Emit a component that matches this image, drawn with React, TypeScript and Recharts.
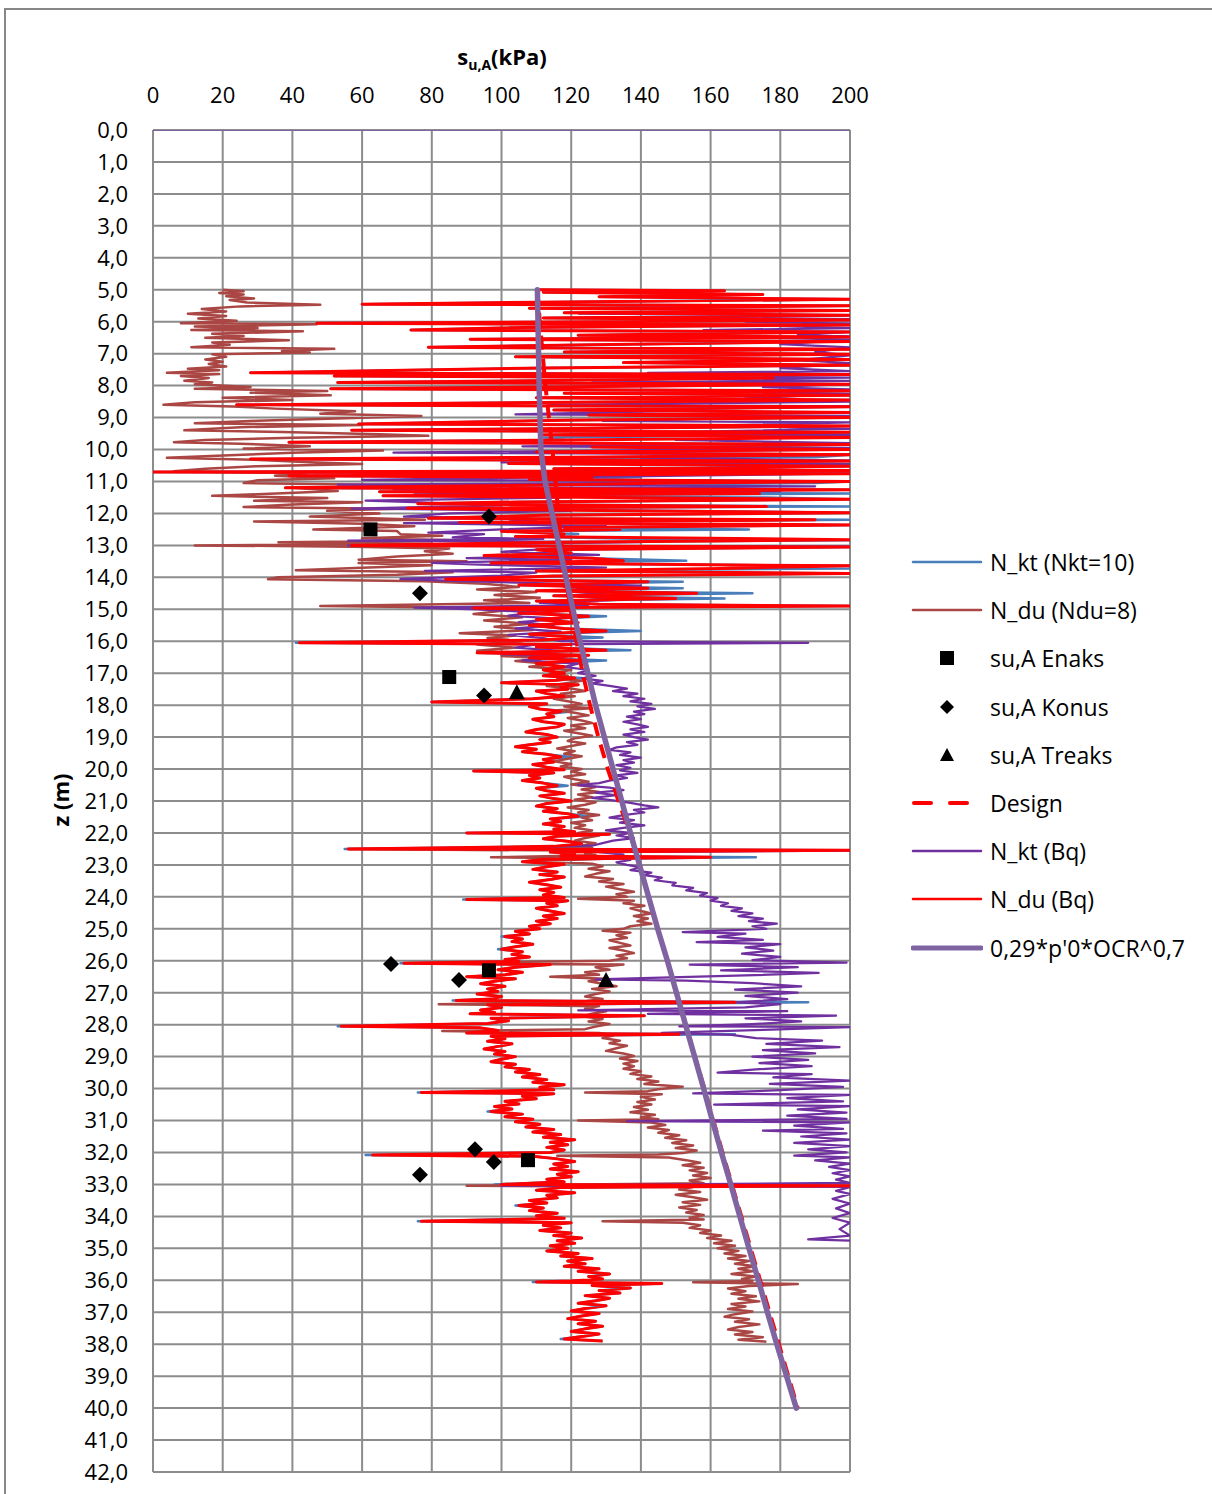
import React from "react"
import { ScatterChart, Scatter, XAxis, YAxis, CartesianGrid } from "recharts"

// all series as [z (m), su,A (kPa)]
const xTicks = [0, 20, 40, 60, 80, 100, 120, 140, 160, 180, 200]
const zTicks = [
  0, 1, 2, 3, 4, 5, 6, 7, 8, 9, 10, 11, 12, 13, 14, 15, 16, 17, 18, 19, 20, 21,
  22, 23, 24, 25, 26, 27, 28, 29, 30, 31, 32, 33, 34, 35, 36, 37, 38, 39, 40, 41, 42,
]

const topLine = [[0, 0], [0, 200]]

const duBq = [
  [5.0,110],[5.03,164],[5.08,112],[5.15,175],[5.22,128],[5.3,200],[5.38,118],[5.45,60],[5.5,200],[5.58,108],[5.65,200],[5.72,118],[5.8,200],[5.88,112],[5.95,200],[6.05,47],[6.1,200],[6.18,106],[6.26,74],[6.32,200],[6.42,122],[6.48,200],[6.55,91],[6.62,200],[6.72,126],[6.8,79],[6.86,200],[6.95,118],[7.02,200],[7.1,104],[7.18,200],[7.28,135],[7.36,200],[7.45,112],[7.6,28],[7.65,200],[7.7,52],[7.76,178],[7.85,108],[7.9,53],[7.96,200],[8.04,112],[8.1,51],[8.16,200],[8.24,118],[8.3,200],[8.38,110],[8.45,200],[8.52,120],[8.6,24],[8.66,200],[8.76,115],[8.84,200],[8.92,125],[9.0,200],[9.08,118],[9.2,59],[9.26,200],[9.34,122],[9.4,57],[9.46,200],[9.54,112],[9.62,200],[9.7,118],[9.77,39],[9.84,200],[9.92,126],[10.0,200],[10.08,110],[10.16,200],[10.24,120],[10.3,28],[10.36,200],[10.44,102],[10.52,200],[10.6,115],[10.66,200],[10.7,0],[10.76,200],[10.82,39],[10.87,126],[10.94,108],[11.0,200],[11.05,148],[11.12,110],[11.2,38],[11.26,200],
  [11.32,65],[11.38,174],[11.45,66],[11.5,131],[11.56,200],[11.64,105],[11.7,76],[11.78,176],[11.84,73],[11.9,120],[11.98,200],[12.06,112],[12.15,79],[12.2,190],[12.28,88],[12.36,200],[12.44,118],[12.5,134],[12.56,100],[12.64,118],[12.72,104],[12.82,200],[12.9,118],[13.0,57],[13.05,200],[13.14,110],[13.24,120],[13.32,95],[13.4,126],[13.48,135],[13.55,97],[13.64,200],[13.72,163],[13.8,110],[13.88,200],[13.96,115],[14.06,84],[14.14,142],[14.24,105],[14.34,142],[14.42,110],[14.5,156],[14.58,115],[14.66,150],[14.74,110],[14.84,128],[14.9,200],[14.96,92],[15.04,120],[15.12,105],[15.22,125],[15.32,110],[15.42,122],[15.5,108],[15.6,118],[15.68,130],[15.78,108],[15.88,122],[15.96,112],[16.05,42],[16.1,120],[16.18,110],[16.28,130],[16.36,93],[16.44,125],[16.52,108],[16.6,122],[16.7,110],[16.8,118],[16.9,112],
  [17.0,118],[17.08,112],[17.15,121],[17.22,116],[17.3,100],[17.36,122],[17.42,117],[17.5,119],[17.56,110],[17.64,113],[17.72,118],[17.8,109],[17.9,80],[17.96,113],[18.04,108],[18.12,111],[18.2,117],[18.28,113],[18.36,115],[18.44,109],[18.52,112],[18.6,118],[18.68,116],[18.76,110],[18.84,107],[18.92,113],[19.0,116],[19.08,111],[19.16,114],[19.24,108],[19.3,104],[19.38,110],[19.46,106],[19.54,113],[19.62,117],[19.7,112],[19.78,115],[19.86,109],[19.94,113],[20.02,118],[20.06,92],[20.12,115],[20.2,108],[20.28,111],[20.36,106],[20.44,112],[20.52,116],[20.6,110],[20.68,113],[20.76,118],[20.84,111],[20.92,115],[21.0,120],[21.08,113],[21.16,110],[21.24,116],[21.32,112],[21.4,119],[21.48,122],[21.56,114],[21.64,117],[21.72,112],[21.8,118],[21.88,115],[21.96,121],[22.0,90],[22.04,131],[22.1,116],[22.18,112],[22.26,119],[22.34,123],[22.42,115],[22.5,56],[22.54,200],[22.6,114],[22.66,121],[22.72,117],[22.76,160],[22.82,112],[22.9,106],[22.98,118],[23.06,113],[23.14,109],[23.22,116],[23.3,111],[23.38,118],[23.46,114],[23.54,108],[23.62,113],[23.7,117],[23.78,111],[23.86,115],[23.94,112],[24.02,118],[24.08,90],[24.12,119],[24.2,113],[24.28,116],[24.36,110],
  [24.44,114],[24.52,118],[24.6,112],[24.68,116],[24.76,110],[24.84,114],[24.92,108],[25.0,111],[25.08,104],[25.16,108],[25.24,101],[25.32,106],[25.4,103],[25.48,109],[25.56,104],[25.64,100],[25.72,106],[25.8,103],[25.88,108],[25.96,101],[26.02,105],[26.08,72],[26.12,114],[26.2,104],[26.28,99],[26.36,106],[26.44,101],[26.5,90],[26.56,104],[26.64,98],[26.72,94],[26.8,101],[26.88,96],[26.96,99],[27.04,93],[27.12,100],[27.2,97],[27.24,87],[27.3,167],[27.38,96],[27.46,100],[27.54,94],[27.62,98],[27.66,91],[27.72,141],[27.8,97],[27.88,102],[27.96,96],[28.05,54],[28.1,94],[28.18,99],[28.26,90],[28.3,151],[28.36,97],[28.44,101],[28.52,96],[28.6,103],[28.68,99],[28.76,95],[28.84,101],[28.92,98],[29.0,104],[29.08,100],[29.16,97],[29.24,104],[29.32,101],[29.4,108],[29.48,104],[29.56,111],[29.64,106],[29.72,113],[29.8,109],[29.88,118],[29.96,111],[30.04,115],[30.12,77],[30.16,115],[30.24,106],[30.32,110],[30.4,101],[30.48,105],[30.56,98],[30.64,103],[30.72,97],[30.8,106],[30.88,101],[30.96,109],[31.04,104],[31.12,111],[31.2,107],[31.28,115],[31.36,109],[31.44,117],[31.52,112],[31.6,121],[31.68,114],[31.76,119],[31.84,113],[31.92,118],[32.0,114],[32.08,63],[32.12,109],[32.2,116],[32.28,121],[32.36,115],[32.44,119],[32.52,114],[32.6,122],[32.68,116],[32.76,120],[32.84,113],[32.92,118],[33.0,100],[33.04,200],[33.1,117],[33.18,110],[33.26,121],[33.34,113],[33.42,116],[33.5,108],[33.58,113],[33.66,105],[33.74,112],[33.82,108],[33.9,116],[33.98,110],[34.06,118],[34.15,77],[34.2,120],[34.28,112],[34.36,117],[34.44,111],[34.52,120],[34.6,115],[34.68,123],[34.76,116],[34.84,121],[34.92,114],[35.0,119],[35.08,113],[35.16,122],[35.24,117],[35.32,126],[35.4,119],[35.48,124],[35.56,118],[35.64,128],[35.72,122],[35.8,131],[35.88,125],[35.96,129],[36.02,120],[36.05,110],[36.1,146],[36.16,126],[36.24,137],[36.32,128],[36.4,134],[36.48,124],[36.56,131],[36.64,127],[36.72,122],[36.8,130],[36.88,124],[36.96,120],[37.04,128],[37.12,123],[37.2,119],[37.28,127],[37.36,122],[37.44,129],[37.52,124],[37.6,120],[37.68,128],[37.76,123],[37.84,118],[37.9,129],
]

const ktNkt10 = [
  [5.0,110],[5.03,164],[5.08,112],[5.15,175],[5.22,128],[5.3,200],[5.38,118],[5.45,60],[5.5,200],[5.58,108],[5.65,200],[5.72,118],[5.8,200],[5.88,112],[5.95,200],[6.05,47],[6.1,200],[6.18,106],[6.26,74],[6.32,200],[6.42,122],[6.48,200],[6.55,91],[6.62,200],[6.72,126],[6.8,79],[6.86,200],[6.95,118],[7.02,200],[7.1,104],[7.18,200],[7.28,135],[7.36,200],[7.45,112],[7.6,28],[7.65,200],[7.7,52],[7.76,178],[7.85,108],[7.9,53],[7.96,200],[8.04,112],[8.1,51],[8.16,200],[8.24,118],[8.3,200],[8.38,110],[8.45,200],[8.52,120],[8.6,24],[8.66,200],[8.76,115],[8.84,200],[8.92,125],[9.0,200],[9.08,118],[9.2,59],[9.26,200],[9.34,122],[9.4,57],[9.46,200],[9.5,150],[9.54,200],[9.62,112],[9.7,118],[9.77,39],[9.84,200],[9.92,160],[10.0,200],[10.08,110],[10.16,200],[10.24,190],[10.3,28],[10.36,200],[10.44,102],[10.52,200],[10.6,115],[10.66,200],[10.7,0],[10.76,200],[10.82,39],[10.87,140],[10.94,108],[11.0,200],[11.05,190],[11.12,110],[11.2,38],[11.26,200],
  [11.32,65],[11.38,200],[11.45,66],[11.5,176],[11.56,200],[11.64,105],[11.7,76],[11.78,200],[11.84,73],[11.9,132],[11.98,200],[12.06,112],[12.15,79],[12.2,200],[12.28,88],[12.36,200],[12.44,118],[12.5,171],[12.56,100],[12.64,122],[12.72,104],[12.8,142],[12.84,200],[12.9,118],[13.0,57],[13.05,200],[13.14,110],[13.24,120],[13.32,95],[13.4,126],[13.48,153],[13.55,97],[13.64,200],[13.72,200],[13.8,110],[13.88,200],[13.96,115],[14.06,84],[14.14,152],[14.24,105],[14.34,152],[14.42,110],[14.5,172],[14.58,115],[14.66,164],[14.74,110],[14.84,128],[14.9,200],[14.96,92],[15.04,120],[15.12,105],[15.22,130],[15.32,110],[15.42,122],[15.5,108],[15.6,118],[15.68,140],[15.78,108],[15.88,129],[15.96,112],[16.05,41],[16.1,120],[16.18,110],[16.28,137],[16.36,93],[16.44,125],[16.52,108],[16.6,130],[16.7,110],[16.8,118],[16.9,112],
  [17.0,118],[17.08,112],[17.15,123],[17.22,116],[17.3,100],[17.36,122],[17.42,117],[17.5,119],[17.56,110],[17.64,113],[17.72,118],[17.8,109],[17.9,80],[17.96,113],[18.04,108],[18.12,111],[18.2,120],[18.28,113],[18.36,115],[18.44,109],[18.52,112],[18.6,118],[18.68,116],[18.76,110],[18.84,107],[18.92,113],[19.0,116],[19.08,111],[19.16,114],[19.24,108],[19.3,104],[19.38,110],[19.46,106],[19.54,113],[19.62,120],[19.7,112],[19.78,115],[19.86,109],[19.94,113],[20.02,118],[20.06,92],[20.12,115],[20.2,108],[20.28,111],[20.36,106],[20.44,112],[20.52,119],[20.6,110],[20.68,113],[20.76,118],[20.84,111],[20.92,115],[21.0,120],[21.08,113],[21.16,110],[21.24,116],[21.32,112],[21.4,119],[21.48,125],[21.56,114],[21.64,117],[21.72,112],[21.8,118],[21.88,115],[21.96,121],[22.0,90],[22.04,131],[22.1,116],[22.18,112],[22.26,119],[22.34,123],[22.42,115],[22.5,55],[22.54,200],[22.6,114],[22.66,121],[22.72,117],[22.76,173],[22.82,112],[22.9,106],[22.98,118],[23.06,113],[23.14,109],[23.22,116],[23.3,111],[23.38,118],[23.46,114],[23.54,108],[23.62,113],[23.7,117],[23.78,111],[23.86,115],[23.94,112],[24.02,118],[24.08,89],[24.12,119],[24.2,113],[24.28,116],[24.36,110],
  [24.44,114],[24.52,118],[24.6,112],[24.68,116],[24.76,110],[24.84,114],[24.92,108],[25.0,111],[25.08,104],[25.16,108],[25.24,100],[25.32,106],[25.4,103],[25.48,109],[25.56,104],[25.64,99],[25.72,106],[25.8,103],[25.88,108],[25.96,101],[26.02,105],[26.08,71],[26.12,114],[26.2,104],[26.28,99],[26.36,106],[26.44,101],[26.5,90],[26.56,104],[26.64,98],[26.72,94],[26.8,101],[26.88,96],[26.96,99],[27.04,93],[27.12,100],[27.2,97],[27.24,86],[27.3,188],[27.38,96],[27.46,100],[27.54,94],[27.62,98],[27.66,91],[27.72,141],[27.8,97],[27.88,102],[27.96,96],[28.05,53],[28.1,94],[28.18,99],[28.26,90],[28.3,167],[28.36,97],[28.44,101],[28.52,96],[28.6,103],[28.68,99],[28.76,95],[28.84,101],[28.92,98],[29.0,104],[29.08,100],[29.16,97],[29.24,104],[29.32,101],[29.4,108],[29.48,104],[29.56,111],[29.64,106],[29.72,113],[29.8,109],[29.88,118],[29.96,111],[30.04,115],[30.12,76],[30.16,115],[30.24,106],[30.32,110],[30.4,101],[30.48,105],[30.56,98],[30.64,103],[30.72,96],[30.8,106],[30.88,101],[30.96,109],[31.04,104],[31.12,111],[31.2,107],[31.28,115],[31.36,109],[31.44,117],[31.52,112],[31.6,121],[31.68,114],[31.76,119],[31.84,113],[31.92,118],[32.0,114],[32.08,61],[32.12,109],[32.2,116],[32.28,121],[32.36,115],[32.44,119],[32.52,114],[32.6,122],[32.68,116],[32.76,120],[32.84,113],[32.92,118],[33.0,98],[33.04,200],[33.1,117],[33.18,110],[33.26,121],[33.34,113],[33.42,116],[33.5,108],[33.58,113],[33.66,104],[33.74,112],[33.82,108],[33.9,116],[33.98,110],[34.06,118],[34.15,76],[34.2,120],[34.28,112],[34.36,117],[34.44,111],[34.52,120],[34.6,115],[34.68,123],[34.76,116],[34.84,121],[34.92,114],[35.0,119],[35.08,113],[35.16,122],[35.24,117],[35.32,126],[35.4,119],[35.48,124],[35.56,118],[35.64,128],[35.72,122],[35.8,131],[35.88,125],[35.96,129],[36.02,120],[36.05,109],[36.1,146],[36.16,126],[36.24,137],[36.32,128],[36.4,134],[36.48,124],[36.56,131],[36.64,127],[36.72,122],[36.8,130],[36.88,124],[36.96,120],[37.04,128],[37.12,123],[37.2,119],[37.28,127],[37.36,122],[37.44,129],[37.52,124],[37.6,120],[37.68,128],[37.76,123],[37.84,117],[37.9,129],
]

const duNdu8 = [
  [5.0,20],[5.05,26],[5.1,19],[5.15,26],[5.2,21],[5.27,29],[5.32,22],[5.4,27],[5.47,48],[5.52,25],[5.6,14],[5.68,21],[5.75,10],[5.82,21],[5.9,13],[5.97,24],[6.05,8],[6.08,47],[6.15,12],[6.2,30],[6.26,11],[6.3,43],[6.38,17],[6.45,26],[6.5,15],[6.58,39],[6.65,17],[6.72,22],[6.8,11],[6.85,52],[6.92,37],[6.96,45],[7.02,17],[7.1,21],[7.18,15],[7.25,20],[7.32,16],[7.4,21],[7.47,10],[7.52,19],[7.6,4],[7.64,19],[7.7,8],[7.76,16],[7.85,9],[7.9,17],[7.96,12],[8.04,28],[8.1,12],[8.17,50],[8.22,28],[8.3,51],[8.38,20],[8.45,40],[8.52,12],[8.6,3],[8.65,23],[8.72,35],[8.8,58],[8.88,48],[8.95,77],[9.02,55],[9.1,30],[9.18,12],[9.23,60],[9.3,25],[9.4,9],[9.45,37],[9.52,65],[9.57,79],[9.63,40],[9.7,15],[9.77,6],[9.82,25],[9.9,45],[9.97,26],[10.03,66],[10.1,40],[10.18,22],[10.26,4],[10.32,29],[10.4,45],[10.45,60],[10.52,30],[10.6,15],[10.68,6],[10.74,44],[10.82,35],[10.9,52],[10.96,30],[11.05,26],[11.12,72],[11.2,40],[11.3,53],[11.4,30],[11.45,17],[11.52,50],
  [11.6,29],[11.65,60],[11.72,40],[11.8,26],[11.85,70],[11.92,50],[12.0,65],[12.1,45],[12.2,78],[12.25,29],[12.32,60],[12.4,75],[12.5,46],[12.55,70],[12.65,71],[12.7,83],[12.78,60],[12.85,90],[12.9,36],[12.95,80],[13.0,12],[13.04,57],[13.1,85],[13.18,78],[13.26,86],[13.35,70],[13.45,59],[13.5,90],[13.55,59],[13.62,80],[13.7,60],[13.78,41],[13.84,86],[13.92,70],[14.0,36],[14.06,33],[14.12,78],[14.2,95],[14.3,105],[14.38,93],[14.46,110],[14.55,98],[14.64,111],[14.72,95],[14.8,108],[14.9,48],[14.95,94],[15.05,100],[15.15,92],[15.25,106],[15.35,95],[15.45,108],[15.55,98],[15.65,109],[15.75,88],[15.82,104],[15.9,96],[16.0,106],[16.1,93],[16.2,104],[16.3,93],[16.38,108],[16.46,100],[16.54,113],[16.62,104],[16.72,115],[16.8,108],[16.9,120],
  [17.0,114],[17.08,119],[17.16,116],[17.24,123],[17.32,118],[17.4,113],[17.48,120],[17.56,124],[17.64,117],[17.72,121],[17.8,115],[17.88,119],[17.96,123],[18.04,118],[18.1,126],[18.16,116],[18.24,121],[18.32,125],[18.4,119],[18.48,123],[18.56,126],[18.64,120],[18.72,124],[18.8,118],[18.88,122],[18.96,126],[19.04,121],[19.12,119],[19.2,124],[19.28,120],[19.36,116],[19.44,121],[19.52,118],[19.6,123],[19.68,119],[19.76,115],[19.84,120],[19.92,117],[20.0,123],[20.08,120],[20.16,124],[20.24,118],[20.32,121],[20.4,125],[20.48,120],[20.56,127],[20.64,123],[20.72,128],[20.8,122],[20.88,126],[20.96,121],[21.04,127],[21.12,124],[21.2,119],[21.28,125],[21.36,122],[21.44,128],[21.52,123],[21.6,126],[21.68,120],[21.76,124],[21.84,121],[21.92,126],[22.0,122],[22.08,128],[22.16,124],[22.24,121],[22.32,127],[22.4,123],[22.46,126],[22.5,56],[22.56,130],[22.64,124],[22.7,127],[22.76,97],[22.8,132],[22.88,110],[22.96,126],[23.04,129],[23.12,125],[23.2,131],[23.28,127],[23.36,124],[23.44,132],[23.52,128],[23.6,135],[23.68,130],[23.76,134],[23.84,138],[23.92,133],[24.0,136],[24.06,122],[24.12,138],[24.2,135],[24.28,141],[24.36,137],[24.44,140],[24.52,143],[24.6,138],[24.68,142],[24.76,139],[24.84,143],[24.92,137],
  [25.0,135],[25.06,129],[25.12,137],[25.2,133],[25.28,136],[25.36,131],[25.44,134],[25.52,137],[25.6,131],[25.68,135],[25.76,138],[25.84,133],[25.92,136],[26.0,131],[26.08,72],[26.12,135],[26.2,127],[26.28,131],[26.36,124],[26.44,128],[26.5,114],[26.56,130],[26.64,125],[26.72,129],[26.8,133],[26.88,126],[26.96,131],[27.04,127],[27.12,124],[27.2,129],[27.28,123],[27.36,82],[27.42,128],[27.5,124],[27.58,130],[27.66,126],[27.74,123],[27.82,129],[27.9,125],[27.98,131],[28.06,127],[28.14,124],[28.2,83],[28.26,128],[28.34,132],[28.42,129],[28.5,134],[28.58,131],[28.66,136],[28.74,133],[28.82,130],[28.9,135],[28.98,138],[29.06,134],[29.14,139],[29.22,135],[29.3,138],[29.38,135],[29.46,140],[29.54,137],[29.62,143],[29.7,139],[29.78,145],[29.86,141],[29.94,152],[30.02,145],[30.08,142],[30.12,124],[30.18,146],[30.26,140],[30.34,144],[30.42,139],[30.5,143],[30.58,138],[30.66,142],[30.74,137],[30.82,144],[30.9,140],[30.96,145],[31.0,122],[31.06,143],[31.14,147],[31.22,142],[31.3,148],[31.38,145],[31.46,151],[31.54,147],[31.62,153],[31.7,149],[31.78,155],[31.86,150],[31.94,156],[32.02,152],[32.06,145],[32.1,116],[32.16,148],[32.24,153],[32.32,157],[32.4,152],[32.48,158],[32.56,154],[32.64,159],[32.72,155],[32.8,160],[32.88,154],[32.96,158],[33.04,90],[33.08,155],[33.16,151],[33.24,157],[33.32,150],[33.4,155],[33.48,159],[33.56,152],[33.64,157],[33.72,151],[33.8,156],[33.88,153],[33.96,158],[34.04,154],[34.1,158],[34.15,129],[34.2,152],[34.28,157],[34.36,154],[34.44,160],[34.52,157],[34.6,163],[34.68,159],[34.76,166],[34.84,161],[34.92,167],[35.0,162],[35.08,168],[35.16,164],[35.24,170],[35.32,165],[35.4,171],[35.48,167],[35.56,173],[35.64,168],[35.72,172],[35.8,166],[35.88,173],[35.96,169],[36.02,172],[36.06,155],[36.12,185],[36.18,171],[36.26,165],[36.34,170],[36.42,166],[36.5,173],[36.58,168],[36.66,174],[36.74,166],[36.82,170],[36.9,165],[36.98,172],[37.06,167],[37.14,164],[37.22,171],[37.3,167],[37.38,174],[37.46,168],[37.54,165],[37.62,172],[37.7,167],[37.78,175],[37.86,168],[37.92,176],
]

const ktBq = [
  [5.75,122],[5.8,200],[5.86,150],[5.92,200],[6.0,170],[6.06,200],[6.14,180],[6.2,200],[6.26,158],[6.32,200],[6.42,185],[6.46,200],[6.5,176],[6.56,200],[6.7,180],[6.8,200],[6.95,190],[7.05,200],[7.2,185],[7.3,200],[7.45,180],[7.55,200],[7.6,142],[7.65,200],[7.7,145],[7.75,200],[7.8,150],[7.85,200],[7.9,126],[7.95,200],[8.05,175],[8.12,200],[8.2,165],[8.25,200],[8.4,170],[8.5,200],[8.6,114],[8.65,200],[8.75,135],[8.78,155],[8.84,130],[8.9,104],[8.95,200],[9.1,129],[9.15,200],[9.25,160],[9.35,200],[9.5,128],[9.55,200],[9.7,150],[9.8,200],[9.9,106],[9.95,200],[10.1,69],[10.15,200],[10.25,140],[10.35,200],[10.4,100],[10.45,200],[10.6,150],[10.66,200],[10.7,140],[10.75,200],[10.85,130],[10.95,60],[11.0,200],[11.1,53],[11.15,190],[11.25,69],[11.3,180],
  [11.4,75],[11.5,120],[11.6,61],[11.65,75],[11.75,100],[11.85,57],[11.92,120],[12.0,85],[12.1,72],[12.15,99],[12.25,110],[12.3,72],[12.4,130],[12.5,100],[12.6,79],[12.65,95],[12.75,86],[12.8,112],[12.85,56],[12.9,140],[13.0,56],[13.04,200],[13.1,115],[13.2,100],[13.3,128],[13.4,90],[13.45,120],[13.55,80],[13.6,94],[13.7,130],[13.8,78],[13.85,110],[13.95,100],[14.05,71],[14.1,84],[14.2,115],[14.26,140],[14.3,118],[14.4,132],[14.45,120],[14.55,132],[14.6,122],[14.7,135],[14.8,111],[14.86,125],[14.95,75],[15.0,93],[15.1,110],[15.2,102],[15.3,117],[15.4,105],[15.5,115],[15.6,104],[15.7,117],[15.8,102],[15.9,112],[16.0,117],[16.05,188],[16.1,110],[16.2,104],[16.3,117],[16.4,100],[16.5,118],[16.6,106],[16.7,122],[16.8,118],[16.9,125],
  [17.0,122],[17.08,127],[17.16,123],[17.24,129],[17.32,126],[17.4,131],[17.48,136],[17.56,132],[17.64,139],[17.72,135],[17.8,141],[17.88,137],[17.96,143],[18.04,139],[18.12,144],[18.2,138],[18.28,141],[18.36,136],[18.44,140],[18.52,135],[18.6,139],[18.68,142],[18.76,137],[18.84,141],[18.92,135],[19.0,138],[19.08,142],[19.16,136],[19.24,139],[19.32,133],[19.4,131],[19.48,137],[19.56,134],[19.64,140],[19.72,135],[19.8,138],[19.88,133],[19.96,137],[20.04,134],[20.12,139],[20.2,133],[20.28,136],[20.36,131],[20.44,128],[20.5,122],[20.58,131],[20.66,135],[20.74,127],[20.82,133],[20.9,126],[20.98,132],[21.06,137],[21.14,141],[21.2,145],[21.28,138],[21.36,141],[21.44,135],[21.52,131],[21.6,138],[21.68,134],[21.76,141],[21.84,135],[21.92,130],[22.0,137],[22.08,133],[22.16,138],[22.24,132],[22.32,129],[22.4,126],[22.5,81],[22.55,200],[22.6,128],[22.68,135],[22.76,131],[22.84,137],[22.92,133],[23.0,136],[23.08,140],[23.16,137],[23.24,143],[23.32,141],[23.4,146],[23.48,144],[23.56,150],[23.64,149],[23.72,155],[23.8,153],[23.88,159],[23.96,157],[24.04,162],[24.12,160],[24.2,165],[24.28,163],[24.36,169],[24.44,166],[24.52,172],[24.6,168],[24.68,175],[24.76,171],[24.84,179],[24.92,172],[25.0,176],
  [25.1,152],[25.15,170],[25.25,162],[25.35,175],[25.42,156],[25.48,180],[25.58,170],[25.68,178],[25.78,169],[25.88,180],[25.98,172],[26.06,199],[26.12,154],[26.2,185],[26.3,163],[26.38,191],[26.46,170],[26.58,127],[26.62,153],[26.7,172],[26.8,186],[26.9,167],[27.0,185],[27.1,170],[27.2,182],[27.3,167],[27.36,180],[27.46,170],[27.55,122],[27.58,182],[27.66,142],[27.72,196],[27.8,170],[27.9,186],[27.98,172],[28.05,151],[28.08,200],[28.16,175],[28.26,146],[28.32,166],[28.42,173],[28.5,192],[28.6,176],[28.7,197],[28.8,175],[28.9,190],[29.0,172],[29.1,188],[29.2,174],[29.3,189],[29.4,173],[29.5,162],[29.55,189],[29.65,178],[29.75,200],[29.85,177],[29.95,198],[30.05,180],[30.15,155],[30.2,200],[30.3,182],[30.4,198],[30.5,161],[30.55,200],[30.65,185],[30.75,199],[30.85,182],[30.95,199],[31.02,136],[31.06,200],[31.16,184],[31.26,198],[31.32,175],[31.4,199],[31.5,186],[31.6,200],[31.7,184],[31.8,200],[31.9,188],[32.0,199],[32.1,184],[32.15,200],[32.25,190],[32.35,200],[32.45,194],[32.55,200],[32.65,195],[32.75,200],[32.85,196],[32.95,200],[33.04,100],[33.08,200],[33.2,196],[33.3,200],[33.45,195],[33.6,200],[33.75,196],[33.9,200],[34.05,195],[34.2,200],[34.4,197],[34.6,200],[34.72,188],[34.76,200],
]

const p0Line = [
  [5,110.3],[8,110.8],[10,111.3],[11,112.5],[12,114.5],[13,116.5],[14,118.5],[15,120.5],[16,122.5],[17,124.8],[18,127],[19,129.5],[20,132],[21,134.5],[22,137],[23,139.6],[24,142.2],[25,144.8],[26,147.6],[27,150.2],[28,152.8],[29,155.4],[30,158],[31,160.5],[32,163.1],[33,165.8],[34,168.4],[35,171],[36,173.7],[37,176.3],[38,179],[39,181.8],[40,184.6],
]

const design = [
  [5,110.3],[6,111],[7,111.8],[8,112.6],[9,113.6],[10,114.6],[11,115.5],[12,116.3],[13,117.3],[14,118.4],[15,119.8],[16,121.5],[17,123.3],[18,125.4],[19,127.8],[20,130.5],[21,133.6],[22,136.8],[23,139.6],[24,142.2],[26,147.6],[28,152.8],[30,158.2],[32,163.4],[34,168.8],[36,174.2],[38,179.6],[40,185],
]

const enaks = [[12.5,62.4],[17.12,85],[26.3,96.4],[32.24,107.6]]
const konus = [[12.1,96.4],[14.5,76.6],[17.7,95],[26.1,68.3],[26.6,87.8],[31.9,92.4],[32.3,97.8],[32.7,76.6]]
const treaks = [[17.6,104.4],[26.6,130]]

const FONT = '"Open Sans", "Noto Sans", sans-serif'
const GRID = "#8C8C8C"

const pts = (a: number[][]) => a.map(([z, x]) => ({ z, x }))
const noDot = () => null
const fmtZ = (v: number) => v.toFixed(1).replace(".", ",")

const Square = (p: any) => <rect x={p.cx - 7} y={p.cy - 7} width={14} height={14} fill="#000" />
const Diamond = (p: any) => (
  <polygon points={`${p.cx},${p.cy - 8} ${p.cx + 8},${p.cy} ${p.cx},${p.cy + 8} ${p.cx - 8},${p.cy}`} fill="#000" />
)
const Triangle = (p: any) => (
  <polygon points={`${p.cx},${p.cy - 8} ${p.cx + 8},${p.cy + 7} ${p.cx - 8},${p.cy + 7}`} fill="#000" />
)

const legendItems = [
  { label: "N_kt (Nkt=10)", kind: "line", color: "#4A7EBB", w: 2.5 },
  { label: "N_du (Ndu=8)", kind: "line", color: "#AA4643", w: 2.5 },
  { label: "su,A Enaks", kind: "square" },
  { label: "su,A Konus", kind: "diamond" },
  { label: "su,A Treaks", kind: "triangle" },
  { label: "Design", kind: "dash", color: "#FF0000", w: 4 },
  { label: "N_kt (Bq)", kind: "line", color: "#7030A0", w: 2.5 },
  { label: "N_du (Bq)", kind: "line", color: "#FF0000", w: 2.5 },
  { label: "0,29*p'0*OCR^0,7", kind: "line", color: "#8064A2", w: 5 },
]

function LegendMark({ item }: { item: any }) {
  return (
    <svg width={72} height={20}>
      {item.kind === "line" && <line x1={2} y1={10} x2={70} y2={10} stroke={item.color} strokeWidth={item.w} strokeLinecap="round" />}
      {item.kind === "dash" && (
        <line x1={3} y1={10} x2={58} y2={10} stroke={item.color} strokeWidth={item.w} strokeDasharray="17 19" strokeLinecap="round" />
      )}
      {item.kind === "square" && <rect x={29} y={3} width={14} height={14} fill="#000" />}
      {item.kind === "diamond" && <polygon points="36,3 43,10 36,17 29,10" fill="#000" />}
      {item.kind === "triangle" && <polygon points="36,3 43,16 29,16" fill="#000" />}
    </svg>
  )
}

export default function App() {
  return (
    <div style={{ position: "absolute", left: 0, top: 0, width: 1212, height: 1494, fontFamily: FONT, background: "#fff" }}>
      <div style={{ position: "absolute", left: 4, top: 8, width: 1208, height: 1486, borderLeft: "2px solid #878787", borderTop: "2px solid #878787" }} />

      <ScatterChart width={1212} height={1494} margin={{ top: 90, left: 93, right: 362, bottom: 22 }} style={{ position: "absolute", left: 0, top: 0 }}>
        <CartesianGrid stroke={GRID} strokeWidth={2} />
        <XAxis
          type="number"
          dataKey="x"
          orientation="top"
          domain={[0, 200]}
          ticks={xTicks}
          interval={0}
          height={40}
          allowDataOverflow
          axisLine={false}
          tickLine={false}
          tickSize={0}
          tickMargin={27}
          tick={{ fontSize: 22, fill: "#000", fontFamily: FONT }}
        />
        <YAxis
          type="number"
          dataKey="z"
          reversed
          domain={[0, 42]}
          ticks={zTicks}
          interval={0}
          width={60}
          allowDataOverflow
          axisLine={{ stroke: GRID, strokeWidth: 2 }}
          tickLine={false}
          tickSize={0}
          tickMargin={25}
          tickFormatter={fmtZ}
          tick={{ fontSize: 22, fill: "#000", fontFamily: FONT }}
        />
        <Scatter data={pts(topLine)} line={{ stroke: "#8064A2", strokeWidth: 2 }} shape={noDot} isAnimationActive={false} />
        <Scatter data={pts(ktNkt10)} line={{ stroke: "#4A7EBB", strokeWidth: 2.5, strokeLinejoin: "round" }} shape={noDot} isAnimationActive={false} />
        <Scatter data={pts(duNdu8)} line={{ stroke: "#AA4643", strokeWidth: 2.5, strokeLinejoin: "round" }} shape={noDot} isAnimationActive={false} />
        <Scatter data={pts(ktBq)} line={{ stroke: "#7030A0", strokeWidth: 2.25, strokeLinejoin: "round" }} shape={noDot} isAnimationActive={false} />
        <Scatter data={pts(design)} line={{ stroke: "#FF0000", strokeWidth: 4, strokeDasharray: "14 9" }} shape={noDot} isAnimationActive={false} />
        <Scatter data={pts(duBq)} line={{ stroke: "#FF0000", strokeWidth: 3, strokeLinejoin: "round" }} shape={noDot} isAnimationActive={false} />
        <Scatter data={pts(p0Line)} line={{ stroke: "#8064A2", strokeWidth: 5.5, strokeLinecap: "round" }} shape={noDot} isAnimationActive={false} />
        <Scatter data={pts(enaks)} shape={Square} isAnimationActive={false} />
        <Scatter data={pts(konus)} shape={Diamond} isAnimationActive={false} />
        <Scatter data={pts(treaks)} shape={Triangle} isAnimationActive={false} />
      </ScatterChart>

      <div style={{ position: "absolute", left: 402, top: 42, width: 200, textAlign: "center", fontWeight: 700, fontSize: 22, lineHeight: "28px" }}>
        s<sub style={{ fontSize: 14, verticalAlign: "-5px" }}>u,A</sub>(kPa)
      </div>
      <div style={{ position: "absolute", left: 60, top: 800, transform: "translate(-50%, -50%) rotate(-90deg)", fontWeight: 700, fontSize: 22, whiteSpace: "nowrap" }}>
        z (m)
      </div>

      <div style={{ position: "absolute", left: 911, top: 538, fontSize: 23 }}>
        {legendItems.map((item) => (
          <div key={item.label} style={{ display: "flex", alignItems: "center", height: 48.2 }}>
            <LegendMark item={item} />
            <span style={{ marginLeft: 7, whiteSpace: "nowrap" }}>{item.label}</span>
          </div>
        ))}
      </div>
    </div>
  )
}
